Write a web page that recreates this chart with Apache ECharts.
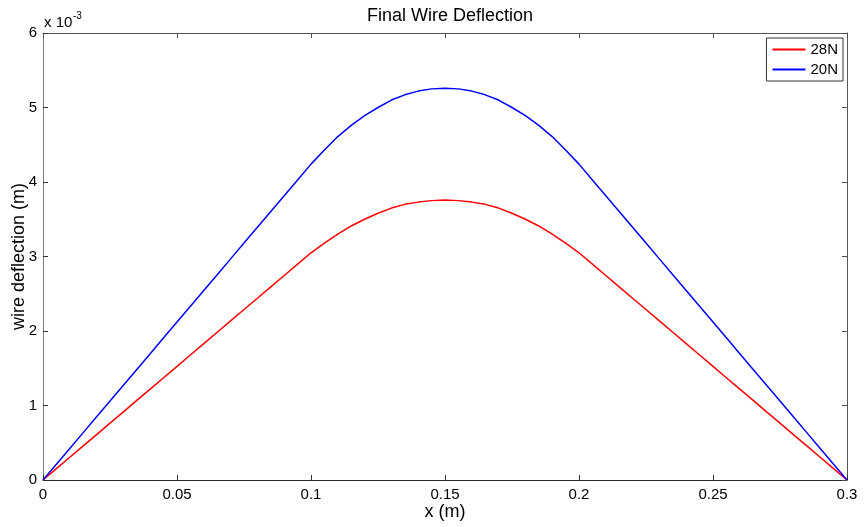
<!DOCTYPE html>
<html>
<head>
<meta charset="utf-8">
<script src="https://cdn.jsdelivr.net/npm/echarts@6/dist/echarts.min.js"></script>
<style>html,body{margin:0;padding:0;background:#fff}#c{width:864px;height:527px}</style>
</head>
<body>
<div id="c"></div>
<script>
// x positions (m)
const xValues = [0,0.005,0.01,0.015,0.02,0.025,0.03,0.035,0.04,0.045,0.05,0.055,0.06,0.065,0.07,0.075,0.08,0.085,0.09,0.095,0.1,0.105,0.11,0.115,0.12,0.125,0.13,0.135,0.14,0.145,0.15,0.155,0.16,0.165,0.17,0.175,0.18,0.185,0.19,0.195,0.2,0.205,0.21,0.215,0.22,0.225,0.23,0.235,0.24,0.245,0.25,0.255,0.26,0.265,0.27,0.275,0.28,0.285,0.29,0.295,0.3];
// deflection in units of 1e-3 m
const defl28N = [0,0.153,0.305,0.458,0.610,0.763,0.915,1.068,1.220,1.373,1.525,1.678,1.830,1.983,2.135,2.288,2.440,2.593,2.745,2.898,3.05,3.18,3.30,3.41,3.50,3.58,3.65,3.70,3.73,3.75,3.76,3.75,3.73,3.70,3.65,3.58,3.50,3.41,3.30,3.18,3.05,2.898,2.745,2.593,2.440,2.288,2.135,1.983,1.830,1.678,1.525,1.373,1.220,1.068,0.915,0.763,0.610,0.458,0.305,0.153,0];
const defl20N = [0,0.212,0.424,0.636,0.848,1.060,1.272,1.484,1.696,1.908,2.120,2.332,2.544,2.756,2.968,3.180,3.392,3.604,3.816,4.028,4.24,4.43,4.61,4.76,4.89,5.00,5.10,5.17,5.22,5.25,5.26,5.25,5.22,5.17,5.10,5.00,4.89,4.76,4.61,4.43,4.24,4.028,3.816,3.604,3.392,3.180,2.968,2.756,2.544,2.332,2.120,1.908,1.696,1.484,1.272,1.060,0.848,0.636,0.424,0.212,0];
const xTicks = [0,0.05,0.1,0.15,0.2,0.25,0.3];
const yTicks = [0,1,2,3,4,5,6];

const FONT = "'Liberation Sans', Arial, Helvetica, sans-serif";
const chart = echarts.init(document.getElementById('c'), null, {renderer:'canvas'});
const pair = ys => xValues.map((x,i)=>[x, ys[i]]);
const tick = c => ({show:true, inside:true, length:5, lineStyle:{color:c, width:1}});
const axLabel = () => ({color:'#000', fontSize:15, fontFamily:FONT});
chart.setOption({
  animation:false,
  backgroundColor:'#fff',
  title:{text:'Final Wire Deflection', left:445, top:2, textAlign:'center',
    textStyle:{fontSize:18, fontWeight:'normal', color:'#000', fontFamily:FONT}},
  grid:{left:43, right:17, top:33, bottom:47, outerBoundsMode:'none'},
  legend:{orient:'vertical', right:21, top:38, data:['28N','20N'],
    backgroundColor:'#fff', borderColor:'#333', borderWidth:1, padding:[4,5,4,5],
    itemWidth:33, itemHeight:10, itemGap:5, itemStyle:{opacity:0},
    textStyle:{fontSize:15, color:'#000', fontFamily:FONT}},
  xAxis:[
    {type:'value', min:0, max:0.3, interval:0.05, position:'bottom',
      name:'x (m)', nameLocation:'middle', nameGap:23, nameMoveOverlap:false,
      nameTextStyle:{fontSize:18, color:'#000', fontFamily:FONT},
      axisLine:{show:true, onZero:false, lineStyle:{color:'#262626'}},
      axisTick:tick('#303030'), splitLine:{show:false},
      axisLabel:Object.assign(axLabel(), {margin:7, formatter:v=>String(+v.toFixed(2))})},
    {type:'value', min:0, max:0.3, interval:0.05, position:'top',
      axisLine:{show:true, onZero:false, lineStyle:{color:'#555'}},
      axisTick:tick('#505050'), splitLine:{show:false}, axisLabel:{show:false}}
  ],
  yAxis:[
    {type:'value', min:0, max:6, interval:1, position:'left',
      name:'wire deflection (m)', nameLocation:'middle', nameGap:15, nameRotate:90, nameMoveOverlap:false,
      nameTextStyle:{fontSize:18, color:'#000', fontFamily:FONT},
      axisLine:{show:true, onZero:false, lineStyle:{color:'#808080'}},
      axisTick:tick('#303030'), splitLine:{show:false},
      axisLabel:Object.assign(axLabel(), {margin:6})},
    {type:'value', min:0, max:6, interval:1, position:'right',
      axisLine:{show:true, onZero:false, lineStyle:{color:'#555'}},
      axisTick:tick('#505050'), splitLine:{show:false}, axisLabel:{show:false}}
  ],
  graphic:[
    {type:'text', left:44, top:15, style:{text:'x 10', fontSize:15, fontFamily:FONT, fill:'#000'}},
    {type:'text', left:73, top:11, style:{text:'-3', fontSize:10, fontFamily:FONT, fill:'#000'}}
  ],
  series:[
    {name:'28N', type:'line', data:pair(defl28N), symbol:'none', lineStyle:{color:'#ff0000', width:1.5}, itemStyle:{color:'#ff0000'}},
    {name:'20N', type:'line', data:pair(defl20N), symbol:'none', lineStyle:{color:'#0000ff', width:1.5}, itemStyle:{color:'#0000ff'}}
  ]
});
</script>
</body>
</html>
